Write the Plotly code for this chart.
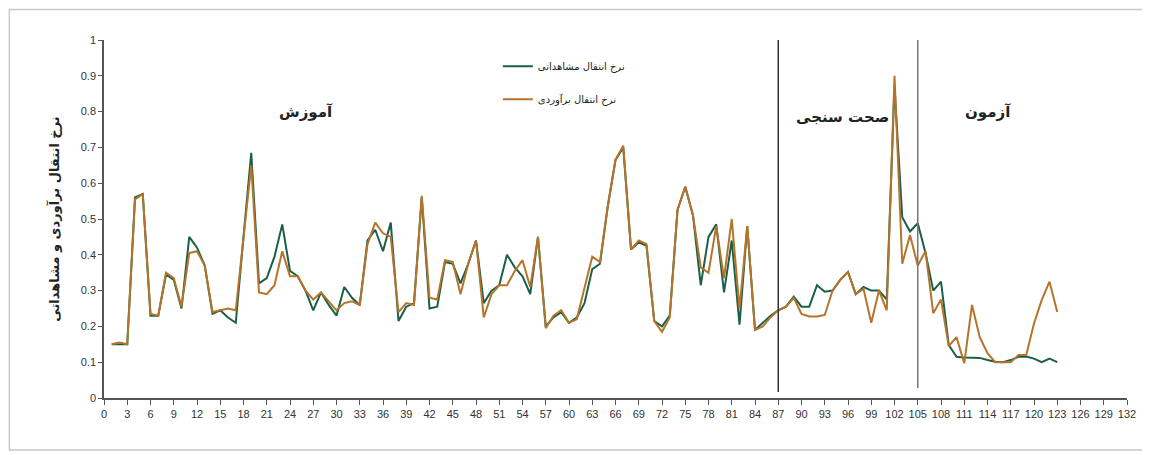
import plotly.graph_objects as go

# ---- data ----
index = list(range(1, 124))

observed = [
    0.15, 0.15, 0.15, 0.56, 0.57, 0.23, 0.23, 0.345, 0.33, 0.25,
    0.45, 0.42, 0.37, 0.235, 0.245, 0.225, 0.21, 0.45, 0.685, 0.32,
    0.335, 0.395, 0.485, 0.355, 0.34, 0.30, 0.245, 0.295, 0.26, 0.23,
    0.31, 0.28, 0.26, 0.44, 0.47, 0.41, 0.49, 0.215, 0.255, 0.265,
    0.56, 0.25, 0.255, 0.38, 0.375, 0.32, 0.375, 0.44, 0.265, 0.30,
    0.315, 0.40, 0.365, 0.34, 0.29, 0.45, 0.20, 0.225, 0.24, 0.21,
    0.225, 0.265, 0.36, 0.375, 0.535, 0.665, 0.70, 0.415, 0.435, 0.425,
    0.215, 0.20, 0.23, 0.525, 0.59, 0.51, 0.315, 0.45, 0.485, 0.295,
    0.44, 0.205, 0.48, 0.19, 0.21, 0.23, 0.245, 0.255, 0.283, 0.255,
    0.255, 0.315, 0.297, 0.30, 0.33, 0.352, 0.29, 0.31, 0.30, 0.30,
    0.275, 0.87, 0.505, 0.465, 0.488, 0.405, 0.30, 0.325, 0.148, 0.115,
    0.113, 0.113, 0.112, 0.106, 0.101, 0.10, 0.106, 0.115, 0.116, 0.11,
    0.10, 0.11, 0.10,
]

predicted = [
    0.15, 0.155, 0.15, 0.555, 0.57, 0.235, 0.23, 0.35, 0.335, 0.255,
    0.405, 0.41, 0.37, 0.24, 0.245, 0.25, 0.245, 0.44, 0.65, 0.295,
    0.29, 0.315, 0.41, 0.34, 0.34, 0.30, 0.275, 0.295, 0.27, 0.245,
    0.265, 0.27, 0.26, 0.43, 0.49, 0.46, 0.45, 0.24, 0.265, 0.26,
    0.565, 0.28, 0.275, 0.385, 0.38, 0.29, 0.375, 0.44, 0.225, 0.29,
    0.315, 0.315, 0.355, 0.385, 0.31, 0.45, 0.195, 0.23, 0.245, 0.21,
    0.22, 0.31, 0.395, 0.38, 0.535, 0.665, 0.705, 0.415, 0.44, 0.43,
    0.215, 0.185, 0.225, 0.525, 0.59, 0.51, 0.365, 0.35, 0.48, 0.335,
    0.50, 0.25, 0.48, 0.19, 0.20, 0.225, 0.245, 0.255, 0.28, 0.235,
    0.228, 0.228, 0.232, 0.30, 0.33, 0.352, 0.29, 0.305, 0.21, 0.30,
    0.245, 0.90, 0.375, 0.455, 0.37, 0.41, 0.237, 0.275, 0.145, 0.17,
    0.097, 0.26, 0.17, 0.125, 0.10, 0.10, 0.10, 0.12, 0.12, 0.208,
    0.274, 0.325, 0.24,
]

x_ticks = list(range(0, 133, 3))
y_ticks = [0, 0.1, 0.2, 0.3, 0.4, 0.5, 0.6, 0.7, 0.8, 0.9, 1]
y_tick_labels = ["0", "0.1", "0.2", "0.3", "0.4", "0.5", "0.6", "0.7", "0.8", "0.9", "1"]

name_observed = "نرخ انتقال مشاهداتی"
name_predicted = "نرخ انتقال برآوردی"
y_title = "نرخ انتقال برآوردی و مشاهداتی"
section_labels = ["آموزش", "صحت سنجی", "آزمون"]
section_x = [26, 95.3, 114]
section_y = [0.80, 0.785, 0.80]
boundaries = [87, 105]

FONT = "DejaVu Sans"

fig = go.Figure()
fig.add_trace(go.Scatter(
    x=index, y=observed, mode="lines", name=name_observed,
    line=dict(color="#1a6049", width=2), legendgroup="a",
))
fig.add_trace(go.Scatter(
    x=index, y=predicted, mode="lines", name=name_predicted,
    line=dict(color="#b5742a", width=2), legendgroup="b",
))

# vertical boundary lines
fig.add_shape(type="line", xref="x", yref="y", x0=boundaries[0], x1=boundaries[0],
              y0=0.017, y1=1.04, line=dict(color="#333333", width=1.5))
fig.add_shape(type="line", xref="x", yref="y", x0=boundaries[1], x1=boundaries[1],
              y0=0.028, y1=1.03, line=dict(color="#777777", width=1.5))

# outer frame
fig.add_shape(type="rect", xref="paper", yref="paper", x0=-0.0925, x1=1.0156,
              y0=-0.145, y1=1.085, line=dict(color="#c8c8c8", width=1.5),
              fillcolor="rgba(0,0,0,0)", layer="below")

for txt, sx, sy in zip(section_labels, section_x, section_y):
    fig.add_annotation(x=sx, y=sy, xref="x", yref="y", text="<b>" + txt + "</b>",
                       showarrow=False, font=dict(family=FONT, size=15, color="#222222"))

fig.update_layout(
    width=1142, height=447,
    margin=dict(l=96, r=23, t=32, b=57),
    paper_bgcolor="white", plot_bgcolor="white",
    showlegend=True,
    legend=dict(x=0.385, y=0.967, xanchor="left", yanchor="top",
                font=dict(family=FONT, size=10, color="#222222"),
                bgcolor="rgba(0,0,0,0)", tracegroupgap=14, traceorder="grouped",
                itemwidth=30),
    font=dict(family="Liberation Sans", size=11, color="#333333"),
)

fig.update_xaxes(
    range=[0, 132], tickmode="array", tickvals=x_ticks,
    ticks="outside", ticklen=5, tickcolor="#555555",
    showline=True, linecolor="#555555", linewidth=1.5,
    showgrid=False, zeroline=False,
    tickfont=dict(family="Liberation Sans", size=11, color="#333333"),
)
fig.update_yaxes(
    range=[0, 1], tickmode="array", tickvals=y_ticks, ticktext=y_tick_labels,
    ticks="outside", ticklen=4, tickcolor="#555555",
    showline=True, linecolor="#555555", linewidth=1.5,
    showgrid=False, zeroline=False,
    tickfont=dict(family="Liberation Sans", size=11, color="#333333"),
    title=dict(text="<b>" + y_title + "</b>", standoff=18,
               font=dict(family=FONT, size=13, color="#222222")),
)

fig.write_html("out.html")
